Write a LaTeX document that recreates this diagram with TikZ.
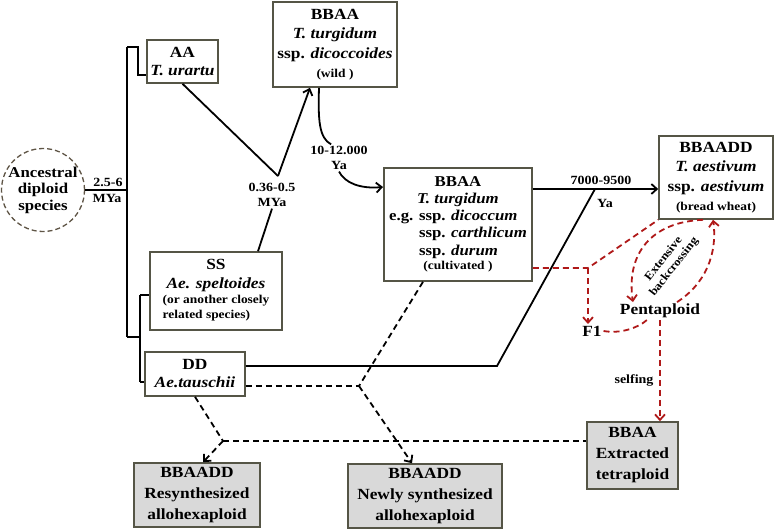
\documentclass[tikz,border=0pt]{standalone}
\usepackage{fontspec}
\setmainfont{Liberation Serif}[FakeStretch=1.12]
\usepackage{tikz}
\usetikzlibrary{arrows.meta}
\definecolor{boxline}{RGB}{85,85,70}
\definecolor{darkred}{RGB}{175,25,25}
\definecolor{boxfill}{RGB}{217,217,217}
\definecolor{ringline}{RGB}{95,85,70}
\begin{document}
\begin{tikzpicture}[x=1pt, y=-1pt, line width=1.8pt, >={Straight Barb[length=5.5pt,width=10pt]},
  box/.style={draw=boxline, line width=1.6pt, fill=white, align=center, inner sep=1pt, font=\fontsize{15.5}{19.5}\selectfont\bfseries},
  greybox/.style={box, fill=boxfill, font=\fontsize{15.5}{21}\selectfont\bfseries},
  lbl/.style={font=\fontsize{12.5}{15}\selectfont\bfseries, align=center, inner sep=1pt},
  big/.style={font=\fontsize{15.5}{18}\selectfont\bfseries, inner sep=1pt},
  reddash/.style={darkred, dash pattern=on 6pt off 4pt},
  blackdash/.style={dash pattern=on 6pt off 4pt}]
\useasboundingbox (0,0) rectangle (774,531);
\draw (43,190) node[circle, draw=ringline, dash pattern=on 5pt off 3pt, line width=1.3pt, minimum size=76, inner sep=0pt, align=center, font=\fontsize{15}{16.5}\selectfont\bfseries](anc){Ancestral\\diploid\\species}
    (182.5,61.5) node[box, minimum width=71, minimum height=43, font=\fontsize{15.5}{18}\selectfont\bfseries](aa){AA\\\textit{T. urartu}}
    (335,44.5) node[box, minimum width=124, minimum height=85](wild){BBAA\\\textit{T. turgidum}\\ssp. \textit{dicoccoides}\\{\fontsize{12}{14}\selectfont (wild )}}
    (216,291) node[box, minimum width=132, minimum height=78](ss){SS\\\textit{Ae. speltoides}\\{\fontsize{12}{15}\selectfont\begin{tabular}{@{}l@{}}(or another closely\\related species)\end{tabular}}}
    (195,374) node[box, minimum width=100, minimum height=44, font=\fontsize{15.5}{18}\selectfont\bfseries](dd){DD\\\textit{Ae.tauschii}}
    (458,224.5) node[box, minimum width=148, minimum height=113, font=\fontsize{15}{17.5}\selectfont\bfseries](cult){BBAA\\\textit{T. turgidum}\\\begin{tabular}{@{}l@{}}e.g. ssp. \textit{dicoccum}\\\phantom{e.g. }ssp. \textit{carthlicum}\\\phantom{e.g. }ssp. \textit{durum}\end{tabular}\\{\fontsize{12}{14}\selectfont (cultivated )}}
    (716,177.5) node[box, minimum width=114, minimum height=83](bread){BBAADD\\\textit{T. aestivum}\\ssp. \textit{aestivum}\\{\fontsize{12}{14}\selectfont (bread wheat)}}
    (197,495) node[greybox, minimum width=126, minimum height=64](resyn){BBAADD\\Resynthesized\\allohexaploid}
    (425,496) node[greybox, minimum width=154, minimum height=64](newly){BBAADD\\Newly synthesized\\allohexaploid}
    (632.5,455.5) node[greybox, minimum width=91, minimum height=67](ext){BBAA\\Extracted\\tetraploid};
\draw (108,182) node[lbl](l25){2.5-6}
    (107,198) node[lbl](lmya){MYa}
    (272,195) node[lbl](l036){0.36-0.5\\MYa}
    (339,158) node[lbl](l10){10-12.000\\Ya}
    (601,180) node[lbl](l7000){7000-9500}
    (605,203) node[lbl](lya){Ya}
    (634,380) node[lbl](lself){selfing}
    (669,263) node[lbl, rotate=52, font=\fontsize{11.5}{13}\selectfont\bfseries](lback){Extensive\\backcrossing}
    (660,311) node[big](pent){Pentaploid}
    (592,331) node[big](f1){F1};
\coordinate (t0) at (127,47);
\coordinate (t1) at (127,337);
\coordinate (t2) at (138,47);
\coordinate (t3) at (138,75);
\coordinate (t4) at (140,337);
\coordinate (t5) at (140,295);
\coordinate (t6) at (140,382);
\coordinate (jn) at (278,176);
\coordinate (ca) at (383,187);
\coordinate (hz) at (595,189);
\coordinate (k1) at (497,366);
\coordinate (rj) at (588,268);
\coordinate (bj) at (359,386);
\coordinate (lj) at (223,441);
\draw [-] (anc.east) -- (anc.east -| t0);
\draw [-] (t0) -- (t1);
\draw [-] (t0) -- (t2) -- (t3) -- (aa.west |- t3);
\draw [-] (t1) -- (t4);
\draw [-] (t5) -- (t6);
\draw [-] (t5) -- (ss.west |- t5);
\draw [-] (t6) -- (dd.west |- t6);
\draw [-] (aa.south) -- (jn);
\draw [->] (jn) -- ([xshift=-25pt]wild.south);
\draw [-] (l036.south) -- ([xshift=42pt]ss.north);
\draw [-] ([xshift=-16pt]wild.south) .. controls (318,120) and (319,138) .. (l10.120);
\draw [->] (l10.south) .. controls (345,183) and (360,189) .. (ca);
\draw [->] (cult.east |- hz) -- (bread.west |- hz);
\draw [-] (dd.east |- k1) -- (k1) -- (hz);
\draw [reddash] (cult.east |- rj) -- (rj) -- (bread.south west);
\draw [reddash, ->] (rj) -- (rj |- f1.north);
\draw [reddash] (f1.east) .. controls (620,334) and (638,328) .. ([xshift=-13pt]pent.south);
\draw [reddash, ->] ([xshift=-13pt]bread.south) .. controls (650,222) and (626,255) .. ([xshift=-27pt]pent.north);
\draw [reddash, ->] ([xshift=17pt]pent.north) .. controls (704,285) and (718,255) .. ([xshift=-3pt]bread.south);
\draw [reddash, ->] (pent.south) -- (pent.south |- ext.north);
\draw [blackdash] ([xshift=-35pt]cult.south) -- (bj);
\draw [blackdash] (dd.east |- bj) -- (bj);
\draw [blackdash, ->] (bj) -- ([xshift=-13pt]newly.north);
\draw [blackdash] (dd.south) -- (lj);
\draw [blackdash, ->] (lj) -- ([xshift=6pt]resyn.north);
\draw [blackdash] (lj) -- (ext.west |- lj);
\end{tikzpicture}
\end{document}
